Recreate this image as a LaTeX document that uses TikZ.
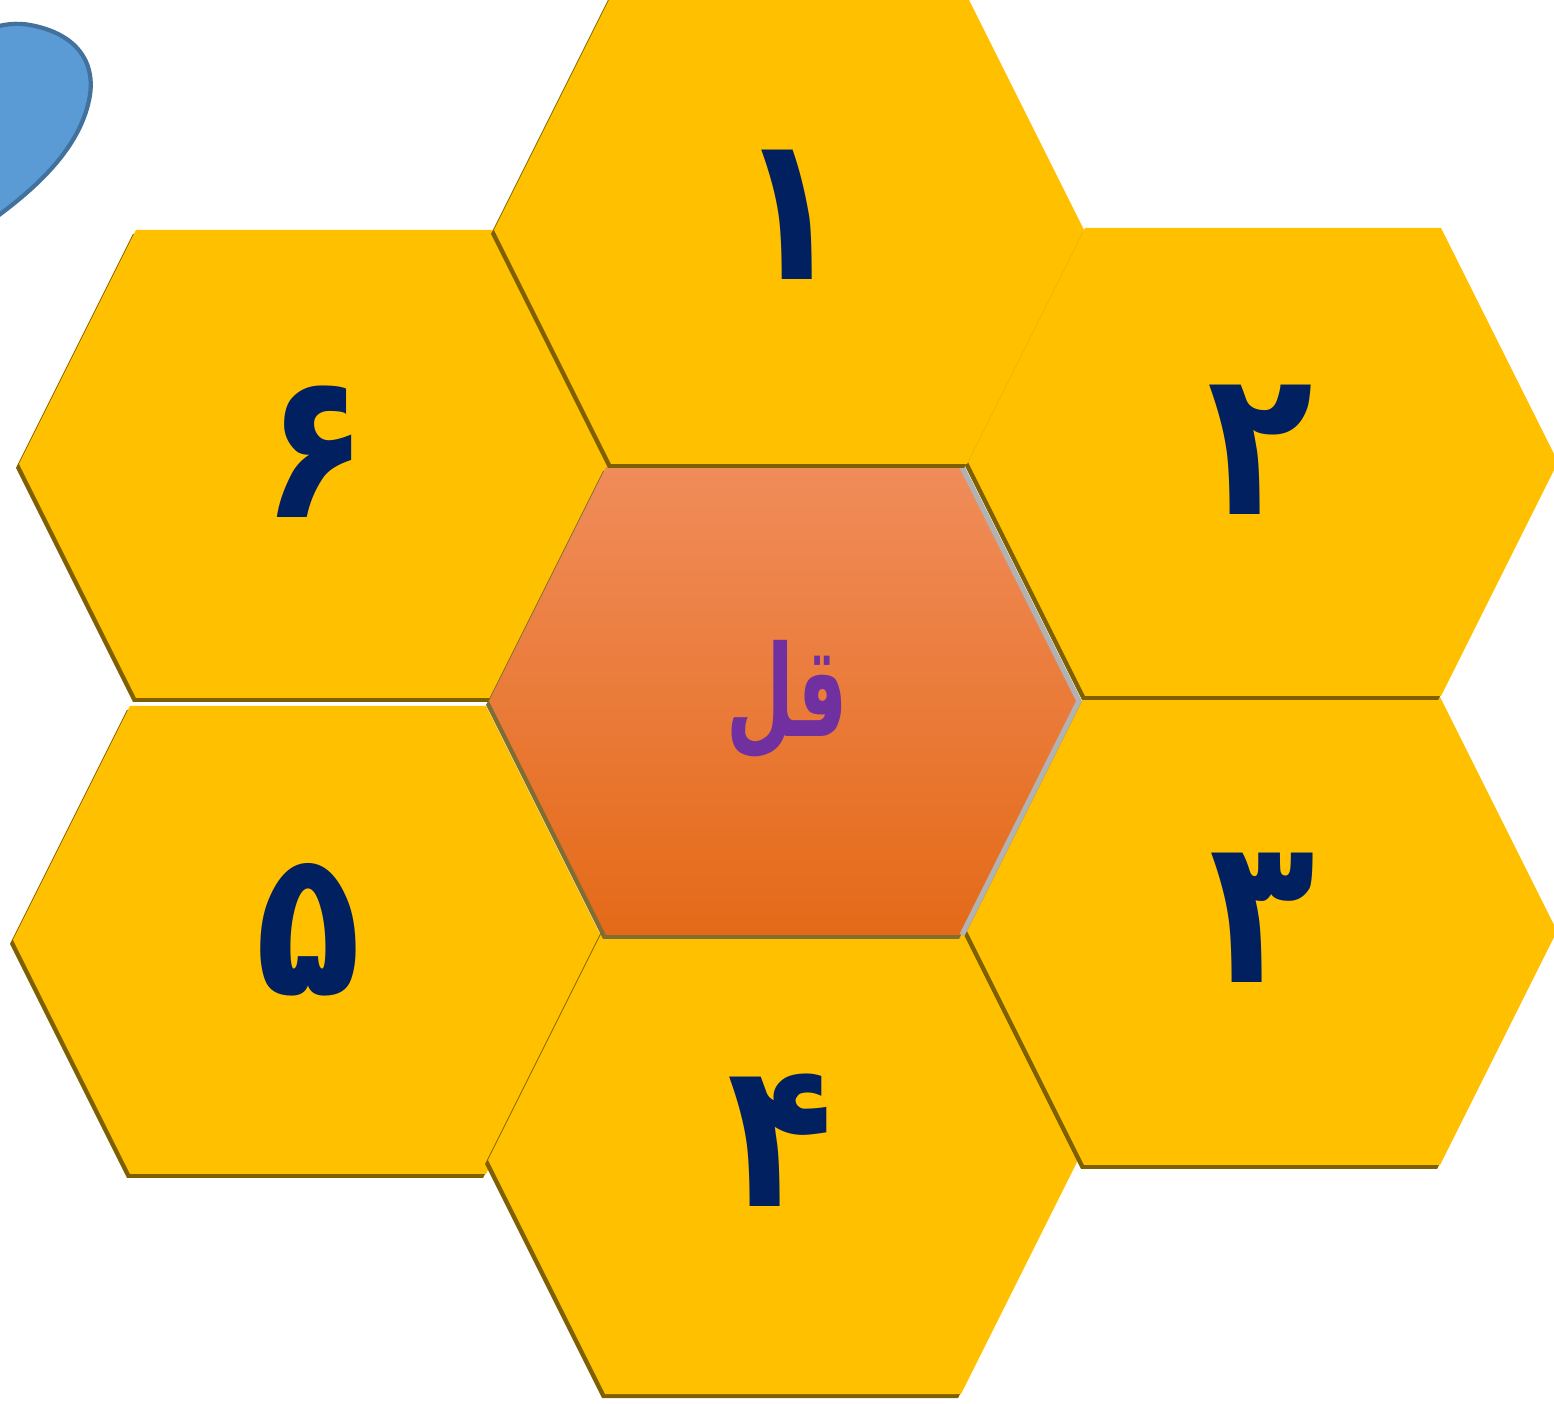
\documentclass[tikz,border=0pt]{standalone}
\usepackage{fontspec}
\newfontfamily\arabicfont[Script=Arabic]{DejaVu Sans}
\TeXXeTstate=1
\definecolor{hexgold}{HTML}{FFC000}
\definecolor{hexshade}{HTML}{7F6000}
\definecolor{ctop}{HTML}{F08C5A}
\definecolor{cbot}{HTML}{E46A18}
\definecolor{navy}{HTML}{002060}
\definecolor{purp}{HTML}{7030A0}
\definecolor{dropfill}{HTML}{5B9BD5}
\definecolor{dropline}{HTML}{41719C}
\tikzset{
  digit/.style={text=navy, font=\arabicfont\bfseries\fontsize{58}{64}\selectfont, inner sep=0pt, transform shape, xscale=0.85},
  centertext/.style={text=purp, font=\arabicfont\bfseries\fontsize{36}{40}\selectfont, inner sep=0pt, transform shape, xscale=0.62},
}
\newcommand\hexshape{(-295,0) -- (-178,-234) -- (178,-234) -- (295,0) -- (178,234) -- (-178,234) -- cycle}
\begin{document}
\begin{tikzpicture}[x=0.01cm,y=-0.01cm]
\useasboundingbox (0,0) rectangle (1554,1404);
\clip (0,0) rectangle (1554,1404);
% blue drop
\path[fill=dropfill, draw=dropline, line width=1.2pt]
  (-60,60) .. controls (-20,25) and (10,20) .. (35,26)
  .. controls (75,35) and (95,60) .. (90,95)
  .. controls (82,145) and (40,185) .. (-5,218) -- (-60,218) -- cycle;
% hexagons: shadow then fill
\foreach \cx/\cy in {308/940, 783/1160, 1262/931, 1263/462, 314/464}{
  \fill[hexshade, shift={(\cx-3,\cy+4)}] \hexshape;
  \fill[hexgold, shift={(\cx,\cy)}] \hexshape;
}
% center
\fill[hexshade!60!gray, shift={(784-3,701+4)}] \hexshape;
\shade[top color=ctop, bottom color=cbot, shift={(784,701)}] \hexshape;
\draw[gray!60, line width=1.5pt, shift={(784,701)}] (178,-234) -- (295,0) -- (178,234);
% top hexagon
\fill[hexshade, shift={(789-3,230+4)}] \hexshape;
\fill[hexgold, shift={(789,230)}] \hexshape;
% labels
\node[digit] (d1) at (790,215) {\beginR ۱\endR};
\node[digit] (d2) at (1260,450) {\beginR ۲\endR};
\node[digit] (d3) at (1262,918) {\beginR ۳\endR};
\node[digit] (d4) at (780,1140) {\beginR ۴\endR};
\node[digit] (d5) at (308,930) {\beginR ۵\endR};
\node[digit] (d6) at (315,452) {\beginR ۶\endR};
\node[centertext] (c) at (787,700) {\beginR قل\endR};
\end{tikzpicture}
\end{document}
